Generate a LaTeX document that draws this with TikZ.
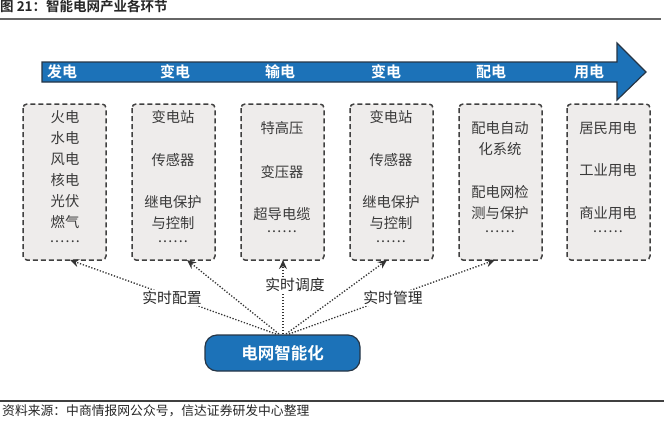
\documentclass[tikz,border=0pt]{standalone}
\usepackage{fontspec}
\newfontfamily\cjk{Noto Sans CJK SC}
\newfontfamily\cjkb{Noto Sans CJK SC Bold}
\usetikzlibrary{arrows.meta}
\definecolor{arrowblue}{HTML}{1C72B8}
\definecolor{edgedark}{HTML}{263545}
\definecolor{boxfill}{HTML}{EEECEB}
\definecolor{boxedge}{HTML}{404040}
\definecolor{txtgray}{HTML}{3A3A3A}
\newcommand\sixdots{.\kern1.2pt.\kern1.2pt.\kern1.2pt.\kern1.2pt.\kern1.2pt.}
\tikzset{
  stagebox/.style={draw=boxedge, fill=boxfill, line width=1.5pt, dash pattern=on 5pt off 3pt, rounded corners=4pt},
  boxtxt/.style={font=\cjk\fontsize{14.3}{16}\selectfont, text=txtgray, inner sep=0pt},
  stagelbl/.style={font=\cjkb\fontsize{15}{16}\selectfont, text=white, inner sep=0pt},
  linklbl/.style={font=\cjk\fontsize{14.8}{16}\selectfont, text=black!85, fill=white, inner sep=1pt},
  link/.style={draw=black!80, line width=1.3pt, dash pattern=on 1.3pt off 1.7pt, -{Stealth[length=9pt,width=8pt]}},
  hub/.style={draw=edgedark, line width=1.2pt, fill=arrowblue, rounded corners=12pt, minimum width=155pt, minimum height=36pt, font=\cjkb\fontsize{16.5}{18}\selectfont, text=white},
}
\begin{document}
\begin{tikzpicture}[x=1pt,y=-1pt]
\useasboundingbox (0,0) rectangle (667,424);
% title and rules
\node[anchor=west, font=\cjkb\fontsize{13.5}{14}\selectfont, text=black!85, inner sep=0pt] (title) at (0,6) {图 21：智能电网产业各环节};
\draw[black!60, line width=1.4pt] (0,19) -- (661,19);
\draw[black!75, line width=1.2pt] (0,401) -- (664,401);
\node[anchor=west, font=\cjk\fontsize{12.8}{14}\selectfont, text=black!85, inner sep=0pt] (source) at (2,411) {资料来源：中商情报网公众号，信达证券研发中心整理};
% big arrow
\draw[fill=arrowblue, draw=edgedark, line width=1.2pt, line join=miter]
  (42,62) -- (617,62) -- (617,43) -- (646,72) -- (617,100) -- (617,82) -- (42,82) -- cycle;
\node[stagelbl] (s1) at (62,72) {发电};
\node[stagelbl] (s2) at (175,72) {变电};
\node[stagelbl] (s3) at (280,72) {输电};
\node[stagelbl] (s4) at (386,72) {变电};
\node[stagelbl] (s5) at (491,72) {配电};
\node[stagelbl] (s6) at (589,72) {用电};
% boxes
\foreach \i/\xl in {1/23,2/132,3/241,4/350,5/459,6/567}{
  \draw[stagebox] (\xl,104) rectangle ++(83,156);
}
% box 1
\node[boxtxt] (t11) at (65,117) {火电};
\node[boxtxt] (t12) at (65,138) {水电};
\node[boxtxt] (t13) at (65,159) {风电};
\node[boxtxt] (t14) at (65,180) {核电};
\node[boxtxt] (t15) at (65,201) {光伏};
\node[boxtxt] (t16) at (65,222) {燃气};
\node[boxtxt] (t17) at (65,242) {\sixdots};
% box 2
\node[boxtxt] (t21) at (173,117) {变电站};
\node[boxtxt] (t22) at (173,160) {传感器};
\node[boxtxt] (t23) at (173,202) {继电保护};
\node[boxtxt] (t24) at (173,223) {与控制};
\node[boxtxt] (t25) at (173,242) {\sixdots};
% box 3
\node[boxtxt] (t31) at (282,128) {特高压};
\node[boxtxt] (t32) at (282,172) {变压器};
\node[boxtxt] (t33) at (282,214) {超导电缆};
\node[boxtxt] (t34) at (282,232) {\sixdots};
% box 4
\node[boxtxt] (t41) at (391,117) {变电站};
\node[boxtxt] (t42) at (391,160) {传感器};
\node[boxtxt] (t43) at (391,202) {继电保护};
\node[boxtxt] (t44) at (391,223) {与控制};
\node[boxtxt] (t45) at (391,242) {\sixdots};
% box 5
\node[boxtxt] (t51) at (500,128) {配电自动};
\node[boxtxt] (t52) at (500,149) {化系统};
\node[boxtxt] (t53) at (500,192) {配电网检};
\node[boxtxt] (t54) at (500,213) {测与保护};
\node[boxtxt] (t55) at (500,232) {\sixdots};
% box 6
\node[boxtxt] (t61) at (608,128) {居民用电};
\node[boxtxt] (t62) at (608,170) {工业用电};
\node[boxtxt] (t63) at (608,213) {商业用电};
\node[boxtxt] (t64) at (608,232) {\sixdots};
% hub
\node[hub] (hub) at (282.5,353) {电网智能化};
\coordinate (a1) at (70,260);
\coordinate (a2) at (187,260);
\coordinate (a3) at (283,260);
\coordinate (a4) at (387,260);
\coordinate (a5) at (495,260);
\coordinate (h1) at (276,334);
\coordinate (h2) at (279,334);
\coordinate (h3) at (283,334);
\coordinate (h4) at (286,334);
\coordinate (h5) at (289,334);
\draw[link] (h1) -- (a1);
\draw[link] (h2) -- (a2);
\draw[link] (h3) -- (a3);
\draw[link] (h4) -- (a4);
\draw[link] (h5) -- (a5);
\node[linklbl] (l1) at (172,298) {实时配置};
\node[linklbl] (l2) at (295,285) {实时调度};
\node[linklbl] (l3) at (393,298) {实时管理};
\end{tikzpicture}
\end{document}
